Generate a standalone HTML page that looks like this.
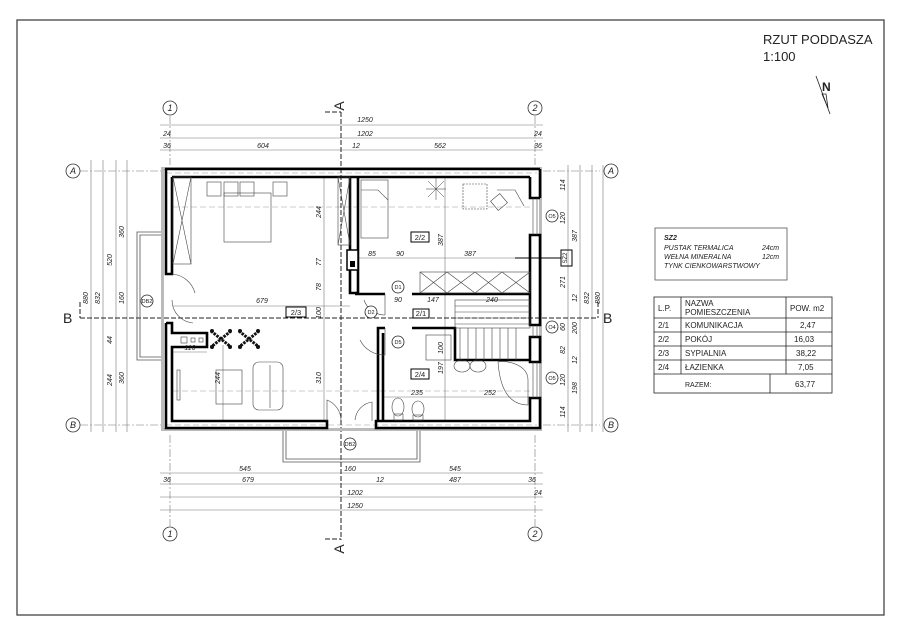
<!DOCTYPE html>
<html><head><meta charset="utf-8"><style>
html,body{margin:0;padding:0;background:#fff;}
svg{display:block;}
text{font-family:"Liberation Sans",sans-serif;fill:#222;}
.d{font-size:7px;font-style:italic;}
</style></head><body>
<svg width="900" height="636" viewBox="0 0 900 636" xmlns="http://www.w3.org/2000/svg">
<rect x="17" y="20" width="867" height="595" fill="none" stroke="#444" stroke-width="1.3"/>
<text x="763" y="44" font-size="13">RZUT PODDASZA</text>
<text x="763" y="61" font-size="13">1:100</text>
<!-- north -->
<g stroke="#222" fill="none" stroke-width="0.8">
<line x1="816" y1="76" x2="830" y2="114"/><path d="M822 94 L828 108 L826 94 Z"/>
</g>
<text x="822" y="91" font-size="12" font-weight="bold">N</text>

<g stroke="#777" stroke-width="0.6" fill="none">
<line x1="160" y1="125" x2="543" y2="125"/>
<line x1="160" y1="138" x2="543" y2="138"/>
<line x1="160" y1="150" x2="543" y2="150"/>
<line x1="160" y1="473" x2="543" y2="473"/>
<line x1="160" y1="484" x2="543" y2="484"/>
<line x1="160" y1="497" x2="543" y2="497"/>
<line x1="160" y1="510" x2="543" y2="510"/>
<line x1="91" y1="160" x2="91" y2="432"/>
<line x1="103" y1="160" x2="103" y2="432"/>
<line x1="116" y1="160" x2="116" y2="432"/>
<line x1="127" y1="160" x2="127" y2="432"/>
<line x1="568" y1="165" x2="568" y2="432"/>
<line x1="580" y1="165" x2="580" y2="432"/>
<line x1="592" y1="165" x2="592" y2="432"/>
<line x1="603" y1="165" x2="603" y2="432"/>
<line x1="170" y1="116" x2="170" y2="165" stroke-dasharray="8 2 2 2"/>
<line x1="170" y1="435" x2="170" y2="526" stroke-dasharray="8 2 2 2"/>
<line x1="535" y1="116" x2="535" y2="165" stroke-dasharray="8 2 2 2"/>
<line x1="535" y1="435" x2="535" y2="526" stroke-dasharray="8 2 2 2"/>
<line x1="80" y1="171" x2="163" y2="171" stroke-dasharray="8 2 2 2"/>
<line x1="543" y1="171" x2="600" y2="171" stroke-dasharray="8 2 2 2"/>
<line x1="80" y1="425" x2="163" y2="425" stroke-dasharray="8 2 2 2"/>
<line x1="543" y1="425" x2="600" y2="425" stroke-dasharray="8 2 2 2"/>
<line x1="173" y1="207" x2="530" y2="207" stroke="#999" stroke-dasharray="6 3"/>
<line x1="173" y1="391" x2="530" y2="391" stroke="#999" stroke-dasharray="6 3"/>
<line x1="166" y1="173" x2="537" y2="173" stroke="#999" stroke-dasharray="6 3"/>
<line x1="166" y1="425" x2="537" y2="425" stroke="#999" stroke-dasharray="6 3"/>
<line x1="324" y1="178" x2="324" y2="420"/>
<line x1="445" y1="178" x2="445" y2="420"/>
<line x1="173" y1="306" x2="350" y2="306"/>
<line x1="358" y1="258" x2="530" y2="258"/>
<line x1="173" y1="352" x2="207" y2="352"/>
<line x1="383" y1="397" x2="530" y2="397"/>
<line x1="223" y1="345" x2="223" y2="420"/>
</g>
<g fill="#fff" stroke="#333" stroke-width="0.8">
<circle cx="170" cy="108" r="7"/><circle cx="535" cy="108" r="7"/>
<circle cx="170" cy="534" r="7"/><circle cx="535" cy="534" r="7"/>
<circle cx="73" cy="171" r="7"/><circle cx="611" cy="171" r="7"/>
<circle cx="73" cy="425" r="7"/><circle cx="611" cy="425" r="7"/>
</g>
<g font-size="9" font-style="italic" text-anchor="middle">
<text x="170" y="111">1</text><text x="535" y="111">2</text>
<text x="170" y="537">1</text><text x="535" y="537">2</text>
<text x="73" y="174">A</text><text x="611" y="174">A</text>
<text x="73" y="428">B</text><text x="611" y="428">B</text>
</g>
<g stroke="#222" stroke-width="1" fill="none" stroke-dasharray="5 2">
<line x1="80" y1="318" x2="598" y2="318"/>
<line x1="341" y1="112" x2="341" y2="540"/>
<line x1="80" y1="302" x2="80" y2="318"/><line x1="598" y1="302" x2="598" y2="318"/>
<line x1="325" y1="112" x2="341" y2="112"/><line x1="325" y1="539" x2="341" y2="539"/>
</g>
<g font-size="14" font-family="Liberation Sans">
<text x="63" y="323">B</text><text x="603" y="323">B</text>
<text x="344" y="106" transform="rotate(-90 344 106)" text-anchor="middle">A</text>
<text x="344" y="549" transform="rotate(-90 344 549)" text-anchor="middle">A</text>
</g>

<g fill="none" stroke="#555" stroke-width="0.8">
<path d="M163 232 H137 V360 H163"/><path d="M163 235 H140 V357 H163"/>
<path d="M283 430 V462 H420 V430"/><path d="M286 430 V459 H417 V430"/>
</g>

<g fill="#bbb">
<rect x="163" y="167" width="377" height="3"/>
<rect x="163" y="428" width="377" height="3"/>
<rect x="161" y="167" width="3" height="264"/>
<rect x="539" y="167" width="3" height="264"/>
</g>
<g stroke="#000" stroke-width="2.6" fill="none" stroke-linejoin="miter">
<line x1="165" y1="169" x2="540" y2="169"/>
<line x1="172" y1="177" x2="530" y2="177"/>
<path d="M166 169 V274 H172 V177"/>
<path d="M166 323 V428 H327 V421 H172 V347 H207 V333 H172 V323 H166"/>
<path d="M540 169 V198"/><path d="M530 177 V198 H540"/>
<path d="M540 235 V325 H530 V235 Z"/>
<path d="M540 337 V362 H530 V337 Z"/>
<path d="M540 398 V428 H376 V421 H530 V398 Z"/>
<path d="M350 177 V250"/><path d="M358 177 V293"/>
<path d="M350 270 V293 H358"/>
<line x1="355" y1="294" x2="385" y2="294"/>
<line x1="412" y1="294" x2="530" y2="294"/>
<path d="M378 421 V328 H385"/><path d="M383 421 V333"/>
<path d="M412 328 H455 V360 H530"/>
</g>
<rect x="347" y="250" width="11" height="20" fill="#fff" stroke="#000" stroke-width="1.5"/>
<rect x="350" y="261" width="5" height="6" fill="#000"/>
<g stroke="#444" stroke-width="0.6" fill="none">
<line x1="533" y1="198" x2="533" y2="235"/><line x1="537" y1="198" x2="537" y2="235"/>
<line x1="533" y1="325" x2="533" y2="337"/><line x1="537" y1="325" x2="537" y2="337"/>
<line x1="533" y1="362" x2="533" y2="398"/><line x1="537" y1="362" x2="537" y2="398"/>
<rect x="173" y="177" width="18" height="87"/><path d="M173 177 L191 264 M191 177 L173 264"/>
<rect x="338" y="177" width="12" height="68"/><path d="M338 177 L350 245 M350 177 L338 245"/>
<rect x="420" y="272" width="110" height="21"/>
<path d="M420 272 L447 293 L475 272 L502 293 L530 272 M420 293 L447 272 L475 293 L502 272 L530 293"/>
<rect x="224" y="193" width="47" height="49"/>
<rect x="207" y="182" width="14" height="14"/><rect x="224" y="182" width="14" height="14"/>
<rect x="240" y="182" width="14" height="14"/><rect x="273" y="182" width="14" height="14"/>
<rect x="361" y="180" width="27" height="58"/><path d="M361 190 H378 L388 200"/>
<rect x="463" y="184" width="24" height="25" stroke-dasharray="2 1"/>
<path d="M497 190 H515 L524 206"/><rect x="493" y="196" width="12" height="12" transform="rotate(-40 499 202)"/>
<rect x="216" y="370" width="26" height="34"/>
<rect x="253" y="362" width="30" height="48" rx="6"/><line x1="270" y1="365" x2="270" y2="408"/>
<rect x="177" y="370" width="3" height="30"/>
<rect x="181" y="337" width="6" height="6"/><rect x="191" y="338" width="4" height="4"/><rect x="199" y="338" width="4" height="4"/>
<path d="M172 274 A26 26 0 0 1 195 293 M172 300 A23 23 0 0 0 193 323"/>
<path d="M327 421 V400 A22 22 0 0 1 341 420 M372 421 V402 A20 20 0 0 0 355 420"/>
<path d="M385 294 V315 A22 22 0 0 1 364 300"/>
<path d="M385 328 V355 A27 27 0 0 1 360 340"/>
<rect x="455" y="300" width="75" height="28"/>
<path d="M455 306 H530 M455 312 H530 M455 318 H530 M455 324 H530"/>
<path d="M460 328 V360 M468 328 V360 M476 328 V360 M484 328 V360 M492 328 V360 M500 328 V360 M508 328 V360 M516 328 V360"/>
<rect x="426" y="335" width="25" height="25"/>
<ellipse cx="462" cy="366" rx="8" ry="6"/><ellipse cx="478" cy="366" rx="8" ry="6"/>
<path d="M498 362 C508 360 528 365 528 380 L528 405 C510 405 500 390 498 362 Z"/>
<ellipse cx="398" cy="407" rx="6" ry="9"/><rect x="394" y="414" width="9" height="6"/>
<ellipse cx="418" cy="409" rx="6" ry="8"/><rect x="413" y="415" width="10" height="5"/>
</g>
<!-- plants -->
<g stroke="#111" stroke-width="3" stroke-dasharray="2.5 1">
<path d="M211 331 L231 347 M231 331 L211 347 M239 331 L259 347 M259 331 L239 347"/>
</g>
<g fill="#111">
<circle cx="212" cy="331" r="2"/><circle cx="230" cy="331" r="2"/><circle cx="212" cy="347" r="2"/><circle cx="230" cy="347" r="2"/>
<circle cx="240" cy="331" r="2"/><circle cx="258" cy="331" r="2"/><circle cx="240" cy="347" r="2"/><circle cx="258" cy="347" r="2"/>
</g>
<g stroke="#333" stroke-width="0.5"><path d="M436 178 L436 200 M426 189 L446 189 M428 181 L444 197 M444 181 L428 197"/></g>
<g fill="#fff" stroke="#222" stroke-width="0.8">
<circle cx="147" cy="301" r="6"/><circle cx="350" cy="444" r="6"/>
<circle cx="398" cy="287" r="6"/><circle cx="371" cy="312" r="6"/><circle cx="398" cy="342" r="6"/>
<circle cx="552" cy="216" r="6"/><circle cx="552" cy="327" r="6"/><circle cx="552" cy="378" r="6"/>
</g>
<g font-size="5.5" text-anchor="middle">
<text x="147" y="303">DB2</text><text x="350" y="446">DB2</text>
<text x="398" y="289">D1</text><text x="371" y="314">D2</text><text x="398" y="344">D5</text>
<text x="552" y="218">O5</text><text x="552" y="329">O4</text><text x="552" y="380">O5</text>
</g>
<g fill="none" stroke="#000" stroke-width="1">
<rect x="286" y="307" width="20" height="10"/><rect x="411" y="232" width="18" height="10"/>
<rect x="413" y="309" width="16" height="9"/><rect x="411" y="369" width="18" height="10"/>
<rect x="561" y="250" width="11" height="16"/>
</g>
<g font-size="7.5" text-anchor="middle">
<text x="296" y="315">2/3</text><text x="420" y="240">2/2</text><text x="421" y="316">2/1</text><text x="420" y="377">2/4</text>
<text x="567" y="258" transform="rotate(-90 567 258)" font-size="6">SZ2</text>
</g>
<line x1="515" y1="258" x2="561" y2="258" stroke="#000" stroke-width="1"/>
<g class="d" text-anchor="middle">
<text x="365" y="122">1250</text><text x="365" y="136">1202</text>
<text x="263" y="148">604</text><text x="440" y="148">562</text>
<text x="356" y="148">12</text><text x="167" y="136">24</text><text x="167" y="148">36</text>
<text x="538" y="136">24</text><text x="538" y="148">36</text>
<text x="245" y="471">545</text><text x="350" y="471">160</text><text x="455" y="471">545</text>
<text x="167" y="482">36</text><text x="248" y="482">679</text><text x="380" y="482">12</text><text x="455" y="482">487</text><text x="532" y="482">36</text>
<text x="355" y="495">1202</text><text x="355" y="508">1250</text><text x="538" y="495">24</text>
<text x="262" y="303">679</text><text x="190" y="350">110</text>
<text x="372" y="256">85</text><text x="400" y="256">90</text><text x="470" y="256">387</text>
<text x="433" y="302">147</text><text x="492" y="302">240</text><text x="398" y="302">90</text>
<text x="417" y="395">235</text><text x="490" y="395">252</text>
</g>
<g class="d" text-anchor="middle">
<text transform="translate(124,232) rotate(-90)">360</text>
<text transform="translate(112,260) rotate(-90)">520</text>
<text transform="translate(124,298) rotate(-90)">160</text>
<text transform="translate(124,378) rotate(-90)">360</text>
<text transform="translate(112,380) rotate(-90)">244</text>
<text transform="translate(112,340) rotate(-90)">44</text>
<text transform="translate(100,298) rotate(-90)">832</text>
<text transform="translate(88,298) rotate(-90)">880</text>
<text transform="translate(321,212) rotate(-90)">244</text>
<text transform="translate(321,262) rotate(-90)">77</text>
<text transform="translate(321,287) rotate(-90)">78</text>
<text transform="translate(321,313) rotate(-90)">100</text>
<text transform="translate(321,378) rotate(-90)">310</text>
<text transform="translate(220,378) rotate(-90)">244</text>
<text transform="translate(443,240) rotate(-90)">387</text>
<text transform="translate(443,368) rotate(-90)">197</text>
<text transform="translate(443,348) rotate(-90)">100</text>
<text transform="translate(565,185) rotate(-90)">114</text>
<text transform="translate(565,218) rotate(-90)">120</text>
<text transform="translate(577,236) rotate(-90)">387</text>
<text transform="translate(565,282) rotate(-90)">271</text>
<text transform="translate(577,298) rotate(-90)">12</text>
<text transform="translate(589,298) rotate(-90)">832</text>
<text transform="translate(600,298) rotate(-90)">880</text>
<text transform="translate(565,327) rotate(-90)">60</text>
<text transform="translate(577,328) rotate(-90)">200</text>
<text transform="translate(565,350) rotate(-90)">82</text>
<text transform="translate(577,360) rotate(-90)">12</text>
<text transform="translate(565,380) rotate(-90)">120</text>
<text transform="translate(577,388) rotate(-90)">198</text>
<text transform="translate(565,412) rotate(-90)">114</text>
</g>

<rect x="655" y="228" width="132" height="52" fill="none" stroke="#555" stroke-width="0.8"/>
<g font-size="7" font-style="italic">
<text x="664" y="240" font-weight="bold">SZ2</text>
<text x="664" y="250">PUSTAK TERMALICA</text><text x="762" y="250">24cm</text>
<text x="664" y="259">WEŁNA MINERALNA</text><text x="762" y="259">12cm</text>
<text x="664" y="268">TYNK CIENKOWARSTWOWY</text>
</g>
<g fill="none" stroke="#222" stroke-width="0.8">
<rect x="654" y="297" width="178" height="96"/>
<line x1="654" y1="318" x2="832" y2="318"/><line x1="654" y1="332" x2="832" y2="332"/>
<line x1="654" y1="346" x2="832" y2="346"/><line x1="654" y1="360" x2="832" y2="360"/>
<line x1="654" y1="374" x2="832" y2="374"/>
<line x1="681" y1="297" x2="681" y2="374"/><line x1="786" y1="297" x2="786" y2="374"/>
<line x1="770" y1="374" x2="770" y2="393"/>
</g>
<g font-size="8" font-family="DejaVu Sans">
<text x="658" y="311">L.P.</text><text x="685" y="306">NAZWA</text><text x="685" y="315">POMIESZCZENIA</text><text x="790" y="311">POW. m2</text>
<text x="658" y="328">2/1</text><text x="685" y="328">KOMUNIKACJA</text><text x="800" y="328">2,47</text>
<text x="658" y="342">2/2</text><text x="685" y="342">POKÓJ</text><text x="794" y="342">16,03</text>
<text x="658" y="356">2/3</text><text x="685" y="356">SYPIALNIA</text><text x="796" y="356">38,22</text>
<text x="658" y="370">2/4</text><text x="685" y="370">ŁAZIENKA</text><text x="798" y="370">7,05</text>
<text x="685" y="387" font-size="7">RAZEM:</text><text x="795" y="387">63,77</text>
</g>
</svg>
</body></html>
